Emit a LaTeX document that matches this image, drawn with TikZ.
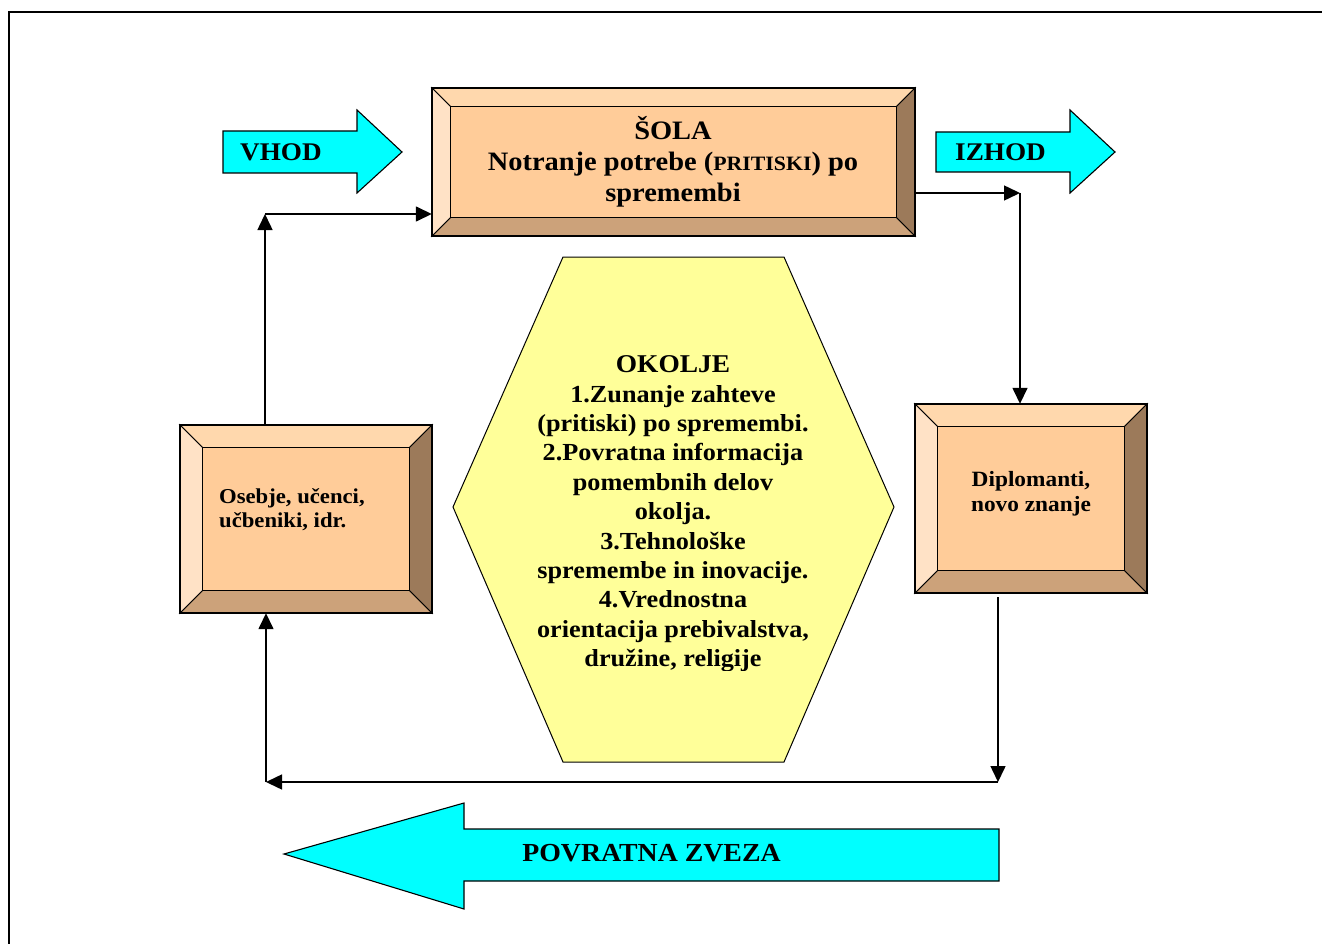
\documentclass[tikz,border=0pt]{standalone}
\usepackage{fontspec}
\setmainfont{Liberation Serif}[FakeStretch=1.07]
\usetikzlibrary{arrows.meta,calc}
\definecolor{bvface}{HTML}{FFCC99}
\definecolor{bvtop}{HTML}{FFD8AD}
\definecolor{bvleft}{HTML}{FFE2C6}
\definecolor{bvright}{HTML}{9C7A5A}
\definecolor{bvbottom}{HTML}{CCA27A}
\definecolor{hexfill}{HTML}{FFFF99}
\definecolor{arrcyan}{HTML}{00FFFF}
\newcommand\bevelfaces[2]{%
  \draw[bvline,fill=bvtop] (#1.north west) -- (#1.north east) -- ($(#1.north east)+(-#2,#2)$) -- ($(#1.north west)+(#2,#2)$) -- cycle;
  \draw[bvline,fill=bvbottom] (#1.south west) -- (#1.south east) -- ($(#1.south east)+(-#2,-#2)$) -- ($(#1.south west)+(#2,-#2)$) -- cycle;
  \draw[bvline,fill=bvleft] (#1.north west) -- (#1.south west) -- ($(#1.south west)+(#2,-#2)$) -- ($(#1.north west)+(#2,#2)$) -- cycle;
  \draw[bvline,fill=bvright] (#1.north east) -- (#1.south east) -- ($(#1.south east)+(-#2,-#2)$) -- ($(#1.north east)+(-#2,#2)$) -- cycle;
  \draw[bvline,fill=bvface] ($(#1.north west)+(#2,#2)$) rectangle ($(#1.south east)+(-#2,-#2)$);
  \draw[line width=1.6pt] (#1.north west) rectangle (#1.south east);
}
\begin{document}
\begin{tikzpicture}[x=1pt,y=-1pt,
  bvbox/.style={draw=none,inner sep=0pt},
  bvline/.style={draw=black,line width=0.9pt,line join=miter},
  conn/.style={line width=1.5pt,-{Triangle[length=16pt,width=15pt]}},
  cyanarrow/.style={fill=arrcyan,draw=black,line width=1.1pt,line join=miter},
  lbl/.style={inner sep=0pt,align=center,font=\bfseries}]
\useasboundingbox (0,0) rectangle (1322,944);
\fill[white] (0,0) rectangle (1322,944);
% frame
\draw[line width=2.4pt] (9,944) -- (9,12) -- (1322,12);

% cyan arrows
\draw[cyanarrow] (223,131) -- (357,131) -- (357,110) -- (402,152) -- (357,193) -- (357,173) -- (223,173) -- cycle;
\node[lbl,anchor=base west,font=\bfseries\fontsize{25.4}{29}\selectfont] (vhod) at (240,161) {VHOD};
\draw[cyanarrow] (936,132) -- (1070,132) -- (1070,110) -- (1115,152) -- (1070,193) -- (1070,172) -- (936,172) -- cycle;
\node[lbl,anchor=base west,font=\bfseries\fontsize{25.4}{29}\selectfont] (izhod) at (955,161) {IZHOD};
\draw[cyanarrow] (999,829) -- (464,829) -- (464,803) -- (284,854) -- (464,909) -- (464,881) -- (999,881) -- cycle;
\node[lbl,anchor=base,font=\bfseries\fontsize{26}{29}\selectfont] (fb) at (651.5,861) {POVRATNA ZVEZA};

% bevel boxes
\node[bvbox,minimum width=483pt,minimum height=148pt] (sola) at (673.5,162) {};
\bevelfaces{sola}{19}
\node[lbl,font=\bfseries\fontsize{26.6}{31}\selectfont] (solatxt) at (673,161.5)
  {ŠOLA\\Notranje potrebe ({\fontsize{20.4}{31}\selectfont PRITISKI}) po\\spremembi};

\node[bvbox,minimum width=252pt,minimum height=188pt] (osebje) at (306,519) {};
\bevelfaces{osebje}{23}
\node[lbl,align=left,anchor=west,font=\bfseries\fontsize{21.2}{24}\selectfont] (osebjetxt) at (219,510)
  {Osebje, učenci,\\učbeniki, idr.};

\node[bvbox,minimum width=232pt,minimum height=189pt] (dipl) at (1031,498.5) {};
\bevelfaces{dipl}{23}
\node[lbl,font=\bfseries\fontsize{21.8}{25}\selectfont] (dipltxt) at (1031,494)
  {Diplomanti,\\novo znanje};

% hexagon
\draw[fill=hexfill,line width=1pt,line join=miter] (563,257) -- (784,257) -- (894,507) -- (784,762) -- (563,762) -- (453,507) -- cycle;
\begin{scope}
\clip (453,250) rectangle (894,670);
\node[lbl,font=\bfseries\fontsize{24.5}{29.4}\selectfont] (okolje) at (673,514)
  {{\fontsize{25.6}{29.4}\selectfont OKOLJE}\\1.Zunanje zahteve\\(pritiski) po spremembi.\\2.Povratna informacija\\pomembnih delov\\okolja.\\3.Tehnološke\\spremembe in inovacije.\\4.Vrednostna\\orientacija prebivalstva,\\družine, religije};
\end{scope}

% connectors
\coordinate (c1) at (1020,193);
\coordinate (c2) at (265,214);
\coordinate (c3) at (998,782);
\coordinate (c4) at (266,782);
\draw[conn] (sola.east |- c1) -- (c1);
\draw[conn] (c1) -- (c1 |- dipl.north);
\draw[conn] (c2 |- osebje.north) -- (c2);
\draw[conn] (c2) -- (c2 -| sola.west);
\draw[conn] ([yshift=-4pt]c3 |- dipl.south) -- (c3);
\draw[conn] (c3) -- (c4);
\draw[conn] (c4) -- (c4 |- osebje.south);
\end{tikzpicture}
\end{document}
